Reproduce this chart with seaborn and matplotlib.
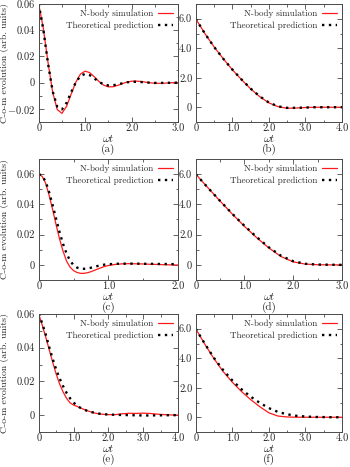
import matplotlib
matplotlib.use("Agg")
import matplotlib.pyplot as plt
import seaborn as sns
from matplotlib.ticker import MultipleLocator

# ── data ──────────────────────────────────────────────────────────────────────

T_A = [0.0, 0.1, 0.2, 0.3, 0.4, 0.5, 0.6, 0.7, 0.8, 0.9, 1.0, 1.1, 1.2, 1.3, 1.4, 1.5,
       1.6, 1.7, 1.8, 1.9, 2.0, 2.1, 2.2, 2.3, 2.4, 2.5, 2.6, 2.7, 2.8, 2.9, 3.0]
A_SIM = [0.0600, 0.0413, 0.0156, -0.0071, -0.0205, -0.0234, -0.0181, -0.0087, 0.0004,
         0.0066, 0.0088, 0.0076, 0.0044, 0.0008, -0.0019, -0.0032, -0.0031, -0.0021,
         -0.0007, 0.0004, 0.0011, 0.0012, 0.0009, 0.0004, -0.0001, -0.0004, -0.0005,
         -0.0004, -0.0002, 0.0000, 0.0001]
A_THEORY = [0.0600, 0.0403, 0.0148, -0.0065, -0.0184, -0.0204, -0.0154, -0.0072, 0.0003,
            0.0052, 0.0067, 0.0057, 0.0032, 0.0006, -0.0013, -0.0021, -0.0020, -0.0013,
            -0.0005, 0.0003, 0.0006, 0.0007, 0.0005, 0.0002, 0.0000, -0.0002, -0.0002,
            -0.0002, -0.0001, 0.0000, 0.0000]

T_B = [0.0, 0.25, 0.5, 0.75, 1.0, 1.25, 1.5, 1.75, 2.0, 2.25, 2.5, 2.75, 3.0, 3.25, 3.5,
       3.75, 4.0]
B_SIM = [6.0, 5.0, 4.1, 3.3, 2.55, 1.88, 1.25, 0.72, 0.30, 0.04, -0.07, -0.05, -0.02,
         0.0, 0.0, 0.0, 0.0]
B_THEORY = [6.0, 5.0, 4.1, 3.3, 2.56, 1.89, 1.27, 0.74, 0.32, 0.06, -0.04, -0.04, -0.02,
            0.0, 0.0, 0.0, 0.0]

T_C = [0.0, 0.05, 0.1, 0.15, 0.2, 0.25, 0.3, 0.35, 0.4, 0.45, 0.5, 0.55, 0.6, 0.65, 0.7,
       0.75, 0.8, 0.85, 0.9, 0.95, 1.0, 1.1, 1.2, 1.3, 1.4, 1.5, 1.6, 1.7, 1.8, 1.9, 2.0]
C_SIM = [0.0600, 0.0585, 0.0540, 0.0460, 0.0365, 0.0265, 0.0170, 0.0090, 0.0025, -0.0015,
         -0.0038, -0.0050, -0.0056, -0.0056, -0.0052, -0.0045, -0.0036, -0.0027, -0.0018,
         -0.0010, -0.0004, 0.0003, 0.0007, 0.0008, 0.0007, 0.0006, 0.0004, 0.0003, 0.0001,
         0.0000, -0.0001]
C_THEORY = [0.0600, 0.0590, 0.0550, 0.0480, 0.0395, 0.0305, 0.0215, 0.0138, 0.0075, 0.0028,
            -0.0002, -0.0018, -0.0025, -0.0026, -0.0024, -0.0019, -0.0013, -0.0007, -0.0002,
            0.0002, 0.0004, 0.0007, 0.0008, 0.0008, 0.0008, 0.0007, 0.0007, 0.0006, 0.0006,
            0.0005, 0.0005]

T_D = [0.0, 0.25, 0.5, 0.75, 1.0, 1.25, 1.5, 1.75, 2.0, 2.25, 2.5, 2.75, 3.0]
D_SIM = [6.0, 5.1, 4.22, 3.36, 2.55, 1.8, 1.12, 0.55, 0.2, 0.05, 0.01, 0.0, 0.0]
D_THEORY = [6.0, 5.1, 4.23, 3.38, 2.58, 1.84, 1.16, 0.6, 0.24, 0.07, 0.02, 0.01, 0.0]

T_E = [0.0, 0.1, 0.2, 0.3, 0.4, 0.5, 0.6, 0.7, 0.8, 0.9, 1.0, 1.1, 1.2, 1.3, 1.4, 1.5,
       1.6, 1.7, 1.8, 1.9, 2.0, 2.2, 2.4, 2.6, 2.8, 3.0, 3.2, 3.4, 3.6, 3.8, 4.0]
E_SIM = [0.0600, 0.0535, 0.0465, 0.0390, 0.0315, 0.0245, 0.0185, 0.0138, 0.0100, 0.0073,
         0.0060, 0.0052, 0.0043, 0.0034, 0.0026, 0.0019, 0.0013, 0.0009, 0.0006, 0.0004,
         0.0003, 0.0003, 0.0008, 0.0011, 0.0010, 0.0012, 0.0010, 0.0006, 0.0003, 0.0001,
         0.0000]
E_THEORY = [0.0600, 0.0545, 0.0480, 0.0405, 0.0335, 0.0272, 0.0218, 0.0172, 0.0132, 0.0100,
            0.0075, 0.0056, 0.0043, 0.0033, 0.0025, 0.0019, 0.0014, 0.0010, 0.0007, 0.0005,
            0.0004, 0.0002, 0.0001, 0.0000, -0.0001, -0.0002, -0.0002, -0.0001, -0.0001,
            0.0000, 0.0000]

T_F = [0.0, 0.25, 0.5, 0.75, 1.0, 1.25, 1.5, 1.75, 2.0, 2.25, 2.5, 2.75, 3.0, 3.25, 3.5,
       3.75, 4.0]
F_SIM = [6.0, 4.95, 3.97, 3.1, 2.38, 1.75, 1.2, 0.72, 0.3, 0.08, 0.02, 0.0, 0.0, 0.0, 0.0,
         0.0, 0.0]
F_THEORY = [6.0, 4.98, 4.02, 3.2, 2.5, 1.9, 1.4, 0.98, 0.62, 0.36, 0.2, 0.1, 0.05, 0.02,
            0.01, 0.0, 0.0]

SMALL_YTICKS = [-0.02, 0.0, 0.02, 0.04, 0.06]
SMALL_YLABELS = ["$-0.02$", "0", "0.02", "0.04", "0.06"]
BIG_YTICKS = [0, 2, 4, 6]
BIG_YLABELS = ["0", "2.0", "4.0", "6.0"]
XTICKS = [0, 1, 2, 3, 4]
XLABELS = ["0", "1.0", "2.0", "3.0", "4.0"]

SIM_LABEL = "N-body simulation"
THEORY_LABEL = "Theoretical prediction"
Y_TITLE = "C-o-m evolution (arb. units)"

# ── style ─────────────────────────────────────────────────────────────────────

sns.set_theme(style="ticks")
plt.rcParams["font.family"] = ["cmr10", "DejaVu Serif"]
plt.rcParams["mathtext.fontset"] = "cm"
plt.rcParams["axes.formatter.use_mathtext"] = True

FRAME = "#4a4a4a"
RED = "#ff1a1a"

W, H = 350, 467
LEFT_X, LEFT_W = 38.7, 139.3
RIGHT_X, RIGHT_W = 195.7, 146.3
ROWS = [(4, 122), (159, 280), (314, 432)]

panels = [
    dict(tag="(a)", t=T_A, sim=A_SIM, th=A_THEORY, xmax=3, ylim=(-0.03, 0.06), small=True, col=0, row=0),
    dict(tag="(b)", t=T_B, sim=B_SIM, th=B_THEORY, xmax=4, ylim=(-1, 7), small=False, col=1, row=0),
    dict(tag="(c)", t=T_C, sim=C_SIM, th=C_THEORY, xmax=2, ylim=(-0.01, 0.07), small=True, col=0, row=1),
    dict(tag="(d)", t=T_D, sim=D_SIM, th=D_THEORY, xmax=3, ylim=(-1, 7), small=False, col=1, row=1),
    dict(tag="(e)", t=T_E, sim=E_SIM, th=E_THEORY, xmax=4, ylim=(-0.01, 0.06), small=True, col=0, row=2),
    dict(tag="(f)", t=T_F, sim=F_SIM, th=F_THEORY, xmax=4, ylim=(-1, 7), small=False, col=1, row=2),
]

fig = plt.figure(figsize=(W / 100, H / 100), dpi=100)

for p in panels:
    x0, w = (LEFT_X, LEFT_W) if p["col"] == 0 else (RIGHT_X, RIGHT_W)
    top, bot = ROWS[p["row"]]
    h = bot - top
    ax = fig.add_axes([x0 / W, 1 - bot / H, w / W, h / H])

    sns.lineplot(x=p["t"], y=p["sim"], ax=ax, color=RED, linewidth=0.9,
                 label=SIM_LABEL, estimator=None, sort=False)
    sns.lineplot(x=p["t"], y=p["th"], ax=ax, color="black", linewidth=1.7,
                 linestyle=(0, (1, 1.9)), label=THEORY_LABEL, estimator=None, sort=False)

    ax.set_xlim(0, p["xmax"])
    ax.set_ylim(*p["ylim"])
    n = p["xmax"] + 1
    ax.set_xticks(XTICKS[:n], XLABELS[:n])
    if p["small"]:
        keep = [i for i, v in enumerate(SMALL_YTICKS) if p["ylim"][0] <= v <= p["ylim"][1]]
        ax.set_yticks([SMALL_YTICKS[i] for i in keep], [SMALL_YLABELS[i] for i in keep])
        ax.yaxis.set_minor_locator(MultipleLocator(0.01))
    else:
        ax.set_yticks(BIG_YTICKS, BIG_YLABELS)
        ax.yaxis.set_minor_locator(MultipleLocator(1.0))
    ax.xaxis.set_minor_locator(MultipleLocator(0.5))

    ax.tick_params(which="both", direction="in", top=True, right=True,
                   color=FRAME, labelsize=7.5, width=0.6)
    ax.tick_params(axis="x", pad=1)
    ax.tick_params(axis="y", pad=2.5)
    ax.tick_params(which="major", length=3.5)
    ax.tick_params(which="minor", length=1.8)
    for s in ax.spines.values():
        s.set_color(FRAME)
        s.set_linewidth(0.7)

    # omega-t and the panel tag share one two-line label, as in the figure
    ax.set_xlabel("$\\omega t$\n" + p["tag"], fontsize=8, labelpad=0, linespacing=0.95)
    ax.xaxis.set_label_coords(0.5, -11.5 / h)
    if p["col"] == 0:
        ax.set_ylabel(Y_TITLE, fontsize=7)
        ax.yaxis.set_label_coords(-29.5 / w, 0.5)
    else:
        ax.set_ylabel("")

    ax.legend(loc="upper right", frameon=False, markerfirst=False, fontsize=6.5,
              handlelength=1.6, handletextpad=0.5, labelspacing=0.45,
              borderaxespad=0.3, borderpad=0.3)

fig.savefig("out.png", dpi=100)
